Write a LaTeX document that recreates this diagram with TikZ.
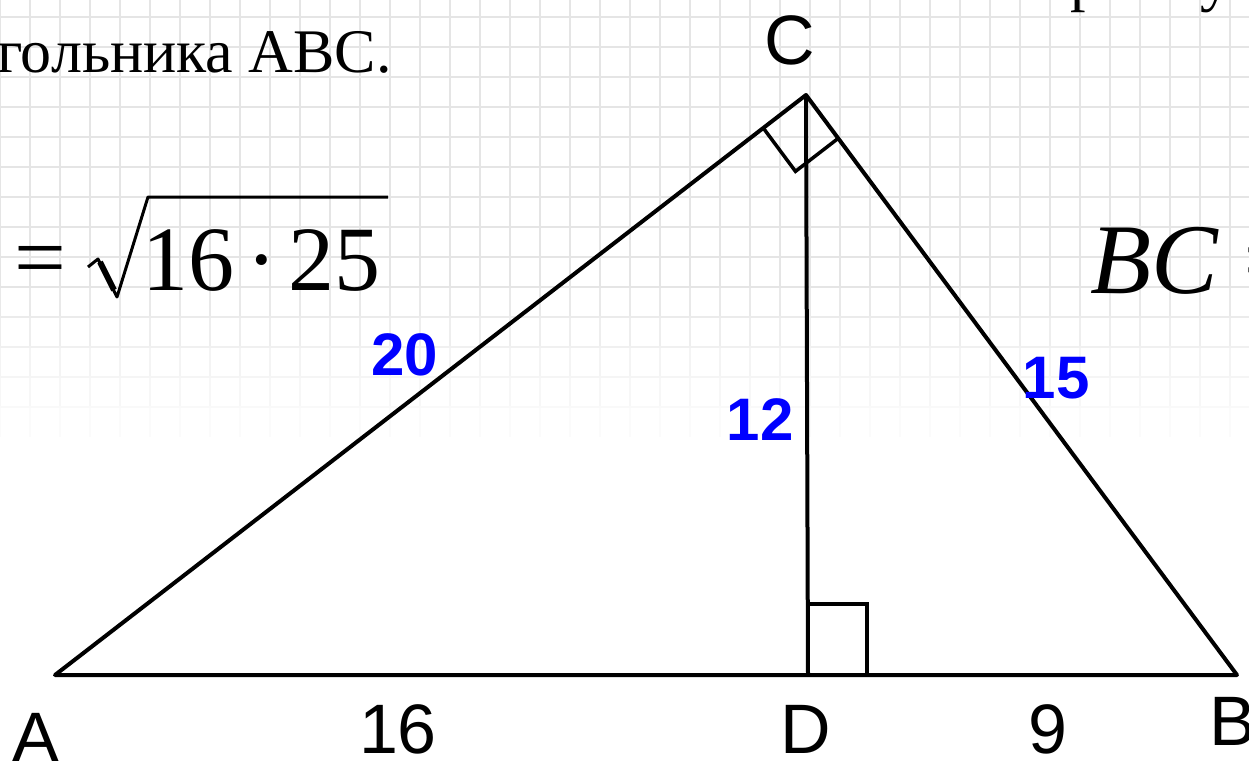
\documentclass[tikz,border=0pt]{standalone}
\usepackage{fontspec}
\setmainfont{Liberation Serif}
\newfontfamily\sansfont{Liberation Sans}
\usetikzlibrary{calc}

\begin{document}
\begin{tikzpicture}[
	x=1pt, y=-1pt,
	side/.style={ line width=4pt, line join=round },
	rtangle/.style={ line width=3.5pt },
	gridline/.style={ line width=1.4pt },
	vname/.style={ font=\sansfont\fontsize{70}{70}\selectfont, inner sep=0pt, anchor=base },
	numlab/.style={ blue, font=\sansfont\bfseries\fontsize{60}{60}\selectfont, inner sep=0pt, anchor=base },
	remark/.style={ font=\fontsize{62}{62}\selectfont, inner sep=0pt, anchor=base },
	formula/.style={ font=\fontsize{92}{92}\selectfont, inner sep=0pt, anchor=base west }
]

\useasboundingbox[fill=white] (0,0) rectangle (1249,762);

% squared paper, fading out downwards
\foreach \x in {0,30,...,1260} \draw[gridline,gray!20] (\x,0) -- (\x,287);
\foreach \ya/\yb/\sh in {287/317/17,317/347/13,347/377/9,377/407/6,407/437/3}
	\foreach \x in {0,30,...,1260} \draw[gridline,gray!\sh] (\x,\ya) -- (\x,\yb);
\foreach \y/\sh in {17/20,47/20,77/20,107/20,137/20,167/20,197/20,227/20,257/20,287/20,317/16,347/12,377/8,407/5}
	\draw[gridline,gray!\sh] (0,\y) -- (1249,\y);

% text of the slide behind
\node at (1070,0) (rline1) [remark,anchor=base west] {р};
\node at (1200,0) (rline2) [remark,anchor=base west] {у};
\node at (392,73) (task) [remark,anchor=base east] {треугольника ABC.};
\node at (40,267) (eqsign) [formula,anchor=center] {=};
\node at (142,290) (rootarg) [formula] {16\kern0.13em·\kern0.13em25};
\draw[line width=3pt,line join=round] (88,267) -- (98,259) -- (117,297) -- (148,197) -- (388,197);
\draw[line width=6pt] (100,262) -- (114,290);
\node at (1090,293) (bcpart) [formula,font=\itshape\fontsize{100}{100}\selectfont] {BC\kern0.2em=};

% triangle
\coordinate (A) at (55,675);
\coordinate (B) at (1237,675);
\coordinate (C) at (806,95);
\coordinate (D) at (808,676);
\draw[side] (A) -- (B) -- (C) -- cycle;
\draw[side] (C) -- (D);

% right angles
\coordinate (ca) at ($(C)!54pt!(A)$);
\coordinate (cb) at ($(C)!54pt!(B)$);
\draw[rtangle] (ca) -- ($(ca)+(cb)-(C)$) -- (cb);
\draw[rtangle] ($(D)+(0,-72)$) -- ++(59,0) -- ++(0,72);

% names and lengths
\node at (790,65) (labC) [vname] {C};
\node at (36,761) (labA) [vname] {A};
\node at (1209,745) (labB) [vname,anchor=base west] {B};
\node at (806,753) (labD) [vname] {D};
\node at (398,753) (lenAD) [vname] {16};
\node at (1048,753) (lenDB) [vname] {9};
\node at (405,375) (lenAC) [numlab] {20};
\node at (760,440) (lenCD) [numlab] {12};
\node at (1056,398) (lenCB) [numlab] {15};

\end{tikzpicture}
\end{document}
